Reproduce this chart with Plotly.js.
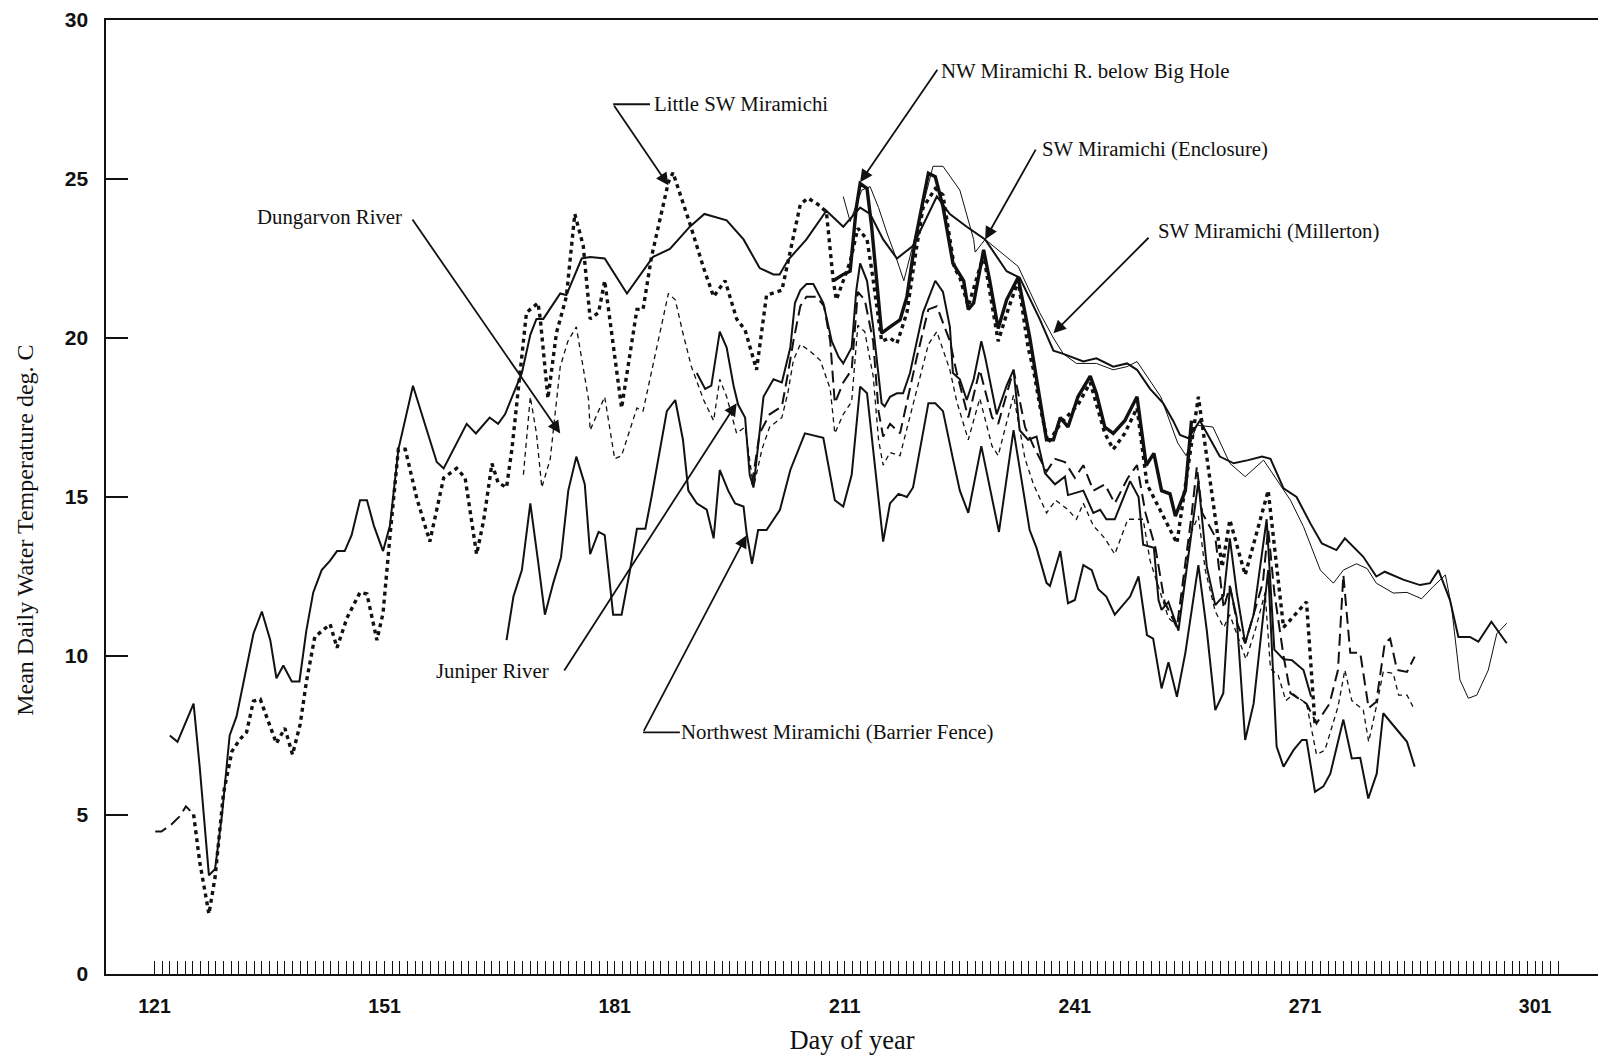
<!DOCTYPE html>
<html><head><meta charset="utf-8">
<script src="https://cdn.plot.ly/plotly-3.0.1.min.js"></script>
<style>html,body{margin:0;padding:0;background:#fff}#chart{width:1598px;height:1057px}</style>
</head><body><div id="chart"></div>
<script>
// ---- Data (day of year, mean daily water temperature deg. C) ----
const millertonDay = [123.0,124.0,126.1,126.9,128.1,128.9,129.8,130.8,131.7,133.9,135.0,136.1,136.9,137.8,138.9,139.9,140.8,141.7,142.8,143.9,144.8,145.8,146.7,147.8,148.7,149.6,150.8,151.7,152.8,154.7,157.8,158.7,161.7,162.9,164.7,165.8,166.7,168.9,170.0,170.8,171.7,173.9,174.7,176.7,177.8,179.7,182.6,186.0,188.2,190.8,192.7,195.6,197.8,199.9,201.7,202.5,203.6,206.0,208.6,210.8,211.9,213.0,214.3,216.0,217.8,219.9,223.0,224.7,226.9,229.3,232.1,233.8,236.4,238.2,239.5,242.1,243.8,246.0,247.8,249.1,250.8,252.5,253.8,254.7,255.8,257.3,259.9,261.7,263.6,265.4,266.5,268.2,269.9,271.7,273.2,275.1,276.2,278.6,280.3,281.4,283.8,286.0,287.3,288.4,289.9,291.0,292.5,293.6,295.3,297.3];
const millertonTemp = [7.5,7.3,8.5,6.5,3.1,3.3,5.0,7.5,8.1,10.7,11.4,10.5,9.3,9.7,9.2,9.2,10.8,12.0,12.7,13.0,13.3,13.3,13.8,14.9,14.9,14.1,13.3,14.1,16.5,18.5,16.1,15.9,17.3,17.0,17.5,17.3,17.6,18.9,20.1,20.6,20.6,21.4,21.35,22.5,22.55,22.5,21.4,22.55,22.8,23.5,23.9,23.7,23.1,22.2,22.0,22.0,22.45,23.1,24.0,23.5,23.8,24.1,23.9,23.1,22.5,22.9,24.45,23.9,23.5,23.1,22.1,21.9,20.6,19.6,19.5,19.26,19.36,19.1,19.2,19.0,18.4,17.95,17.4,16.95,16.85,17.4,16.27,16.06,16.16,16.27,16.2,15.27,15.0,14.17,13.54,13.33,13.7,13.12,12.5,12.65,12.4,12.23,12.29,12.7,11.76,10.6,10.6,10.45,11.08,10.4];

const enclosureDay = [210.8,211.7,213.2,214.3,215.4,216.5,217.8,218.7,222.5,223.8,226.0,227.8,228.0,229.3,233.6,235.1,236.4,238.2,239.5,241.2,243.8,246.0,247.8,249.1,252.2,254.4,255.5,256.9,259.0,261.2,263.2,265.6,269.1,270.8,273.0,274.7,276.0,277.7,279.1,280.3,282.5,284.3,286.2,287.7,289.3,290.1,291.2,292.3,293.4,294.9,296.0,297.3];
const enclosureTemp = [24.45,23.66,24.65,24.76,24.1,23.3,22.45,21.8,25.4,25.4,24.65,23.1,22.7,23.1,22.25,21.5,20.8,20.0,19.5,19.2,19.2,19.0,19.1,19.26,18.15,16.7,16.3,17.26,17.2,16.06,15.64,16.16,14.9,14.07,12.7,12.29,12.7,12.9,12.75,12.29,11.98,12.0,11.8,12.18,12.55,11.55,9.25,8.67,8.77,9.56,10.7,11.03];

const bigHoleDay = [209.5,210.8,211.7,212.5,213.0,213.9,214.5,215.8,216.9,218.2,219.1,220.2,221.9,222.8,223.8,225.1,226.5,227.1,227.8,229.1,229.9,231.0,232.1,233.6,235.1,236.4,237.3,238.2,239.1,240.1,241.4,243.0,243.8,244.9,246.0,247.5,249.1,250.3,251.3,252.3,253.4,254.1,255.4,256.2];
const bigHoleTemp = [21.8,22.0,22.1,24.1,24.86,24.7,23.5,20.15,20.35,20.57,21.3,23.1,25.18,25.07,24.13,22.35,21.8,20.9,21.1,22.77,21.8,20.3,21.2,21.9,20.04,18.05,16.8,16.8,17.5,17.2,18.15,18.8,18.26,17.2,17.0,17.4,18.15,16.0,16.37,15.2,15.1,14.4,15.2,17.4];

const littleSWEarlyDay = [121.1,121.9,123.2,124.3,125.1,126.1];
const littleSWEarlyTemp = [4.48,4.48,4.7,4.96,5.27,5.02];
const littleSWDay = [126.1,126.9,128.1,128.9,130.0,131.1,132.1,133.0,133.9,134.8,135.6,136.9,138.0,139.0,140.0,140.8,141.9,142.9,143.9,144.8,146.1,147.8,148.7,150.0,150.8,151.7,152.8,153.7,155.2,156.9,158.7,160.4,161.5,163.0,163.9,165.0,165.8,166.9,167.6,169.5,171.0,171.3,172.3,173.4,174.7,175.8,176.9,177.8,178.9,179.7,181.9,183.9,184.7,185.8,188.0,188.6,190.8,192.6,193.9,195.4,196.9,198.0,199.5,200.8,202.8,205.2,206.2,207.5,208.6,209.5,209.9,211.7,212.7,213.9,214.6,215.8,216.9,217.8,219.1,220.2,221.2,222.8,223.8,225.3,226.0,227.1,229.1,231.0,232.3,233.6,234.9,235.6,236.4,237.5,239.1,241.4,243.0,244.9,246.0,247.5,249.1,250.4,254.3,257.1,260.2,261.2,263.2,266.2,268.2,271.2,271.8,272.3];
const littleSWTemp = [5.02,3.52,1.89,3.04,5.69,7.0,7.37,7.6,8.58,8.64,8.1,7.25,7.73,6.9,7.86,9.18,10.6,10.8,11.0,10.26,11.2,12.0,11.95,10.5,11.35,13.76,16.5,16.5,14.96,13.6,15.6,15.9,15.6,13.2,14.24,16.05,15.45,15.3,16.5,20.8,21.1,20.6,18.1,20.15,21.3,23.9,22.9,20.6,20.8,21.8,17.8,20.9,20.9,22.55,24.9,25.2,23.6,22.2,21.3,21.8,20.6,20.25,19.0,21.35,21.5,24.2,24.4,24.2,23.97,21.8,21.2,22.4,23.45,23.1,22.0,19.9,20.0,19.83,20.8,22.6,24.1,24.7,24.5,22.2,21.9,21.0,22.6,19.9,20.9,21.8,19.7,19.0,17.9,16.7,17.3,17.9,18.6,17.0,16.5,17.0,17.8,15.4,13.55,18.15,12.8,14.28,12.55,15.2,10.9,11.7,9.56,7.88];

const juniperDay = [191.7,192.8,193.6,194.7,195.6,196.5,197.1,198.0,198.6,199.1,200.4,201.7,202.8,203.9,204.5,205.2,206.0,206.9,208.2,209.3,210.2,210.8,211.9,212.5,213.0,213.9,214.7,215.4,215.8,216.2,216.9,217.8,218.6,219.5,221.2,222.8,223.8,224.7,225.1,226.0,226.9,227.8,228.8,229.3,230.2,230.8,232.1,233.0,233.8,234.9,236.0,237.1,238.4,239.7,240.1,242.1,243.4,244.3,245.1,246.2,248.2,249.3,249.9,251.3,251.9,252.3,253.2,254.1,254.5,257.1,258.2,259.3,260.4,261.2,262.1,263.2,264.3,266.0,267.0,268.2,269.3,270.8,271.8];
const juniperTemp = [18.9,18.4,18.5,20.2,19.7,18.5,17.9,17.5,15.7,15.3,18.15,18.7,18.6,19.7,21.1,21.5,21.7,21.7,21.1,19.9,19.4,19.2,19.7,21.5,22.35,21.8,20.35,18.9,17.95,17.85,18.15,18.26,18.26,18.9,20.8,21.8,21.45,20.35,18.9,18.7,18.05,18.7,19.9,19.4,18.26,17.6,18.5,19.0,17.1,16.8,16.9,15.75,15.4,15.64,15.06,15.2,14.5,14.6,14.3,14.3,15.5,15.0,13.5,13.4,11.76,11.45,11.7,11.1,10.8,15.5,12.8,11.6,11.9,13.7,12.0,10.4,11.3,14.3,10.2,9.9,9.87,9.56,8.72];

const barrierDay = [166.9,167.8,168.9,170.0,171.0,171.9,173.0,174.0,174.95,176.0,177.1,177.8,178.9,179.7,180.8,181.9,183.0,183.9,185.0,185.8,187.8,188.9,189.9,190.6,191.7,193.0,193.9,194.7,195.8,196.7,197.8,198.2,198.9,199.7,200.8,202.55,203.9,205.8,208.2,209.7,210.8,211.9,213.0,213.9,216.0,216.9,218.0,219.1,219.9,221.9,222.8,223.8,225.1,226.0,227.1,228.2,228.8,231.1,233.0,235.1,236.0,237.3,237.75,239.1,240.1,241.0,242.1,243.2,244.05,245.1,246.2,248.2,249.3,250.4,251.2,252.3,253.2,254.3,255.4,257.1,258.2,259.3,260.35,261.2,262.1,263.2,264.3,266.2,267.3,268.2,269.5,270.6,271.2,272.3,273.4,274.3,276.0,277.1,278.2,279.25,280.35,281.2,283.0,284.3,285.3];
const barrierTemp = [10.5,11.87,12.7,14.8,13.0,11.3,12.3,13.1,15.2,16.27,15.4,13.2,13.9,13.8,11.3,11.3,12.7,14.0,14.0,15.0,17.7,18.05,16.8,15.2,14.8,14.6,13.7,15.85,15.2,14.8,14.7,13.86,12.9,13.96,13.96,14.6,15.85,17.0,16.86,14.9,14.7,15.7,18.47,18.26,13.6,14.8,15.1,15.0,15.3,17.95,17.95,17.7,16.2,15.2,14.5,15.85,16.6,13.9,17.1,13.96,13.4,12.3,12.2,13.3,11.66,11.76,12.86,12.7,12.1,11.87,11.3,11.87,12.5,10.66,10.55,8.98,9.8,8.72,10.1,12.86,10.8,8.3,8.83,12.2,11.2,7.36,8.5,12.7,7.15,6.52,7.04,7.36,7.36,5.73,5.9,6.3,8.0,6.78,6.8,5.52,6.3,8.2,7.67,7.3,6.52];

const dungarvonDay = [169.1,170.0,170.8,171.5,172.6,173.9,174.9,176.0,177.6,177.8,179.7,181.0,181.9,183.9,184.7,185.8,187.1,188.0,188.9,189.9,191.0,192.6,193.9,194.7,195.6,196.9,198.0,199.1,200.2,201.2,202.8,203.6,204.3,205.2,206.4,207.8,209.1,209.7,210.8,211.9,212.7,213.6,214.7,215.4,216.0,216.9,218.2,220.4,221.9,223.0,224.7,225.6,227.1,228.6,230.2,231.0,233.0,234.5,235.6,237.3,238.5,240.1,241.2,242.1,243.4,244.9,246.2,247.9,249.9,250.8,251.9,253.2,254.5,256.0,257.1,258.0,259.3,260.4,261.2,262.2,263.3,264.5,265.8,266.5,267.5,268.5,269.5,271.2,272.5,273.6,275.3,276.2,277.1,278.6,279.3,280.3,281.2,282.5,283.2,284.3,285.3];
const dungarvonTemp = [15.7,18.15,17.0,15.3,16.2,19.1,19.9,20.35,18.05,17.1,18.15,16.2,16.3,17.8,17.7,18.9,20.35,21.4,21.2,20.15,19.1,18.05,17.4,18.7,18.15,17.0,17.2,15.3,16.5,17.2,17.5,18.3,19.3,19.8,19.6,19.3,18.4,17.0,17.6,18.0,20.4,20.2,18.8,16.8,16.0,16.4,16.3,18.4,19.8,20.2,19.0,18.0,16.8,18.1,16.6,16.3,18.2,16.2,15.4,14.5,14.9,14.6,14.3,14.8,14.1,13.7,13.2,14.3,14.3,13.0,12.2,11.2,10.9,13.8,14.4,12.7,11.4,10.9,11.3,10.6,9.9,10.8,12.0,9.6,9.4,8.6,8.8,8.5,6.9,7.04,8.4,9.56,8.6,8.3,7.3,8.4,9.5,9.46,8.77,8.77,8.3];

const longDashDay = [198.9,199.9,201.2,202.8,203.6,204.3,205.2,206.0,207.3,208.3,209.1,209.7,210.8,211.9,212.7,213.6,214.7,215.4,216.0,216.9,218.2,220.4,221.9,223.0,224.7,225.6,227.1,228.6,230.2,231.0,233.0,234.5,235.6,237.3,238.4,239.7,241.0,242.1,243.4,244.9,246.2,247.9,249.1,250.2,251.5,252.7,254.3,256.2,256.9,257.6,259.3,260.4,261.2,262.2,263.2,264.3,265.5,266.2,267.0,268.2,269.1,271.2,272.5,274.2,275.3,276.0,276.9,278.2,279.3,280.3,281.4,282.1,283.0,284.3,285.3];
const longDashTemp = [15.4,17.0,17.6,17.85,18.9,19.9,21.0,21.3,21.3,21.0,19.9,17.95,18.6,19.0,21.45,21.2,19.9,17.7,16.9,17.3,17.0,19.4,20.9,21.0,19.9,18.9,17.5,19.0,17.5,17.3,19.0,17.2,16.6,15.8,16.2,16.1,15.6,16.0,15.2,15.4,14.8,15.6,16.0,14.5,13.4,11.7,10.9,14.4,15.95,14.5,13.75,11.5,12.2,11.0,10.4,11.3,12.3,14.0,12.0,10.0,8.83,8.5,7.88,8.5,9.56,12.55,10.1,10.1,8.36,8.56,10.4,10.55,9.56,9.5,9.98];

// Axis ticks
const xLabelDays = [121,151,181,211,241,271,301];
const yTickValues = [0,5,10,15,20,25,30];
const firstTickDay = 121, lastTickDay = 304;

// ---- Build ----
const dailyTicks = [];
for (let d = firstTickDay; d <= lastTickDay; d++) dailyTicks.push(d);
const dailyText = dailyTicks.map(d => xLabelDays.includes(d) ? String(d) : '');

const ink = '#111';
function trace(name, x, y, width, dash) {
  return {type:'scatter', mode:'lines', name, x, y, showlegend:false, hoverinfo:'skip',
    line:{color:ink, width, dash, shape:'linear'}};
}
const data = [
  trace('Dungarvon River', dungarvonDay, dungarvonTemp, 1.3, '5px,4px'),
  trace('Long-dash record', longDashDay, longDashTemp, 2, '12px,6px'),
  trace('Little SW Miramichi (early)', littleSWEarlyDay, littleSWEarlyTemp, 2, '12px,6px'),
  trace('Little SW Miramichi', littleSWDay, littleSWTemp, 3.4, '4px,4px'),
  trace('Northwest Miramichi (Barrier Fence)', barrierDay, barrierTemp, 2, 'solid'),
  trace('Juniper River', juniperDay, juniperTemp, 2, 'solid'),
  trace('SW Miramichi (Enclosure)', enclosureDay, enclosureTemp, 1, 'solid'),
  trace('SW Miramichi (Millerton)', millertonDay, millertonTemp, 2, 'solid'),
  trace('NW Miramichi R. below Big Hole', bigHoleDay, bigHoleTemp, 3.4, 'solid')
];

const serif = 'Liberation Serif, Times New Roman, serif';
const sans = 'Liberation Sans, Arial, sans-serif';
const labelFont = {family: serif, size: 20.8, color: ink};
function label(text, x, y, anchor) {
  return {text, x, y, xref:'x', yref:'y', showarrow:false, xanchor:anchor, yanchor:'middle', font:labelFont};
}
function arrow(x0, y0, x1, y1) {
  return {text:'', x:x1, y:y1, ax:x0, ay:y0, xref:'x', yref:'y', axref:'x', ayref:'y',
    showarrow:true, arrowhead:2, arrowsize:1.4, arrowwidth:1.8, arrowcolor:ink, standoff:0, startstandoff:0};
}
const annotations = [
  label('Dungarvon River', 153.5, 23.8, 'right'),
  label('Little SW Miramichi', 185.8, 27.39, 'left'),
  label('NW Miramichi R. below Big Hole', 223.3, 28.4, 'left'),
  label('SW Miramichi (Enclosure)', 236.5, 25.94, 'left'),
  label('SW Miramichi (Millerton)', 251.6, 23.36, 'left'),
  label('Juniper River', 157.5, 9.53, 'left'),
  label('Northwest Miramichi (Barrier Fence)', 189.4, 7.61, 'left'),
  arrow(154.5, 23.77, 173.9, 17.0),
  arrow(180.8, 27.35, 188.0, 24.8),
  arrow(223.2, 28.48, 213.0, 24.9),
  arrow(236.0, 25.97, 229.3, 23.1),
  arrow(250.8, 23.2, 238.2, 20.15),
  arrow(174.3, 9.5, 196.9, 17.95),
  arrow(184.7, 7.6, 198.2, 13.8),
  {text:'Mean Daily Water Temperature deg. C', xref:'paper', yref:'paper', x:-0.054, y:0.465,
   xanchor:'center', yanchor:'middle', textangle:-90, showarrow:false,
   font:{family:serif, size:24, color:ink}}
];
const shapes = [
  {type:'line', xref:'x', yref:'y', x0:180.8, x1:185.6, y0:27.35, y1:27.35, line:{color:ink, width:1.8}},
  {type:'line', xref:'x', yref:'y', x0:184.7, x1:189.5, y0:7.6, y1:7.6, line:{color:ink, width:1.8}}
];

const layout = {
  width:1598, height:1057,
  margin:{l:106, r:0, t:20, b:83, pad:0},
  paper_bgcolor:'#fff', plot_bgcolor:'#fff',
  showlegend:false,
  xaxis:{
    range:[114.68, 309.2], tickmode:'array', tickvals:dailyTicks, ticktext:dailyText,
    ticks:'inside', ticklen:13, tickwidth:1, tickcolor:ink,
    showline:true, linecolor:ink, linewidth:1.6, mirror:true,
    showgrid:false, zeroline:false,
    tickfont:{family:sans, size:19.5, color:ink, weight:'bold'},
    ticklabelstandoff:14,
    title:{text:'Day of year', font:{family:serif, size:26.5, color:ink}, standoff:14}
  },
  yaxis:{
    range:[0,30], tickmode:'array', tickvals:yTickValues,
    ticks:'inside', ticklen:22, tickwidth:1.3, tickcolor:ink,
    showline:true, linecolor:ink, linewidth:1.6,
    showgrid:false, zeroline:false,
    tickfont:{family:sans, size:21, color:ink, weight:'bold'},
    ticklabelstandoff:12
  },
  annotations, shapes
};
Plotly.newPlot('chart', data, layout, {displayModeBar:false, staticPlot:true});
</script>
</body></html>
